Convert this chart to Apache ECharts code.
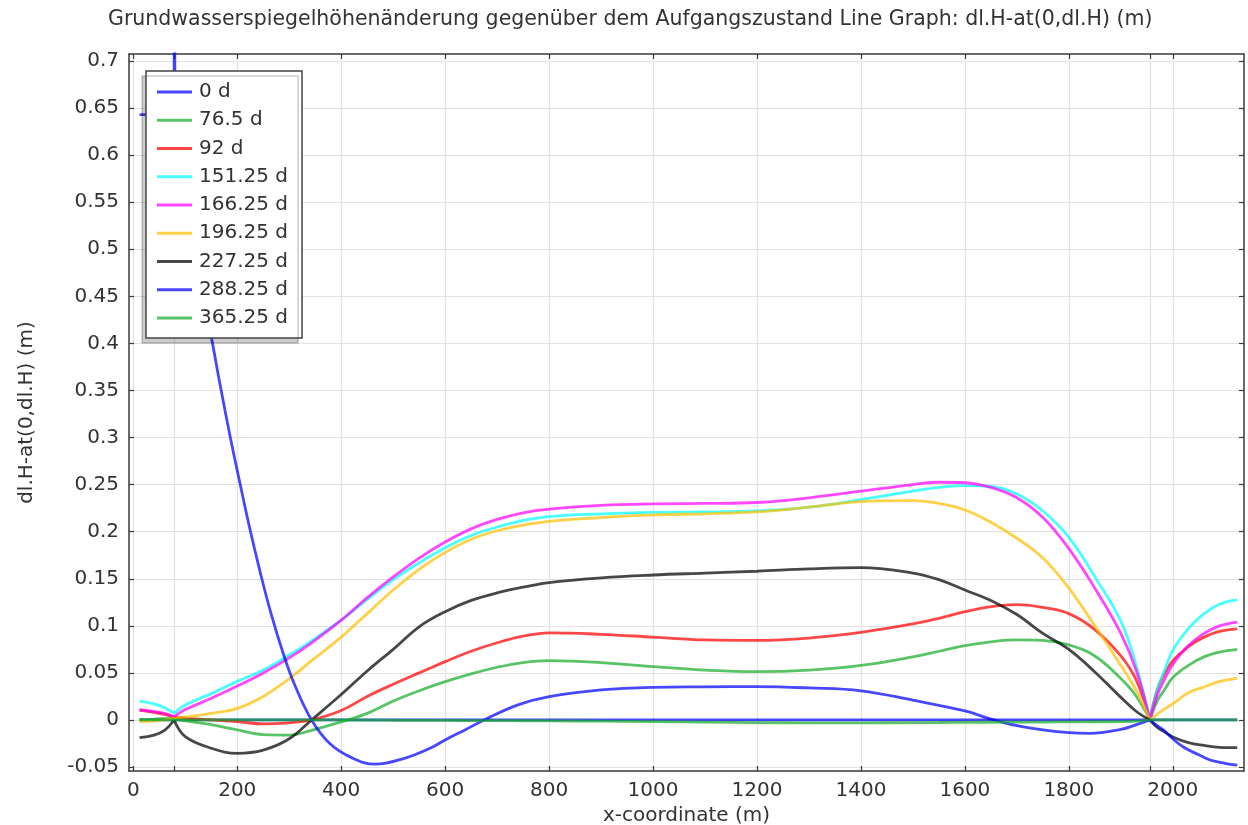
<!DOCTYPE html>
<html>
<head>
<meta charset="utf-8">
<title>Grundwasserspiegelhöhenänderung</title>
<script src="https://cdn.jsdelivr.net/npm/echarts@6/dist/echarts.min.js"></script>
<style>
  html, body { margin: 0; padding: 0; background: #ffffff; }
  #chart { width: 1248px; height: 825px; }
</style>
</head>
<body>
<div id="chart"></div>
<script>
// Tick positions and labels
const xTickValues = [0, 78.5, 200, 400, 600, 800, 1000, 1200, 1400, 1600, 1800, 1956, 2000];
const xLabelValues = [0, 200, 400, 600, 800, 1000, 1200, 1400, 1600, 1800, 2000];
const yTickValues = [-0.05, 0, 0.05, 0.1, 0.15, 0.2, 0.25, 0.3, 0.35, 0.4, 0.45, 0.5, 0.55, 0.6, 0.65, 0.7];

// Points where the profiles have a kink (line segments are split there)
const kinkX = [78.5, 1956];

// Shared x-coordinates (m)
const xs = [12, 40, 60, 78.5, 100, 150, 200, 250, 300, 343, 400, 450, 500, 550, 600, 650, 700, 750, 800,
  900, 1000, 1100, 1200, 1300, 1400, 1500, 1550, 1600, 1650, 1700, 1750, 1800, 1850, 1900, 1930, 1956,
  1970, 1985, 2000, 2030, 2060, 2090, 2124];

// dl.H (m) per time step
const h0 = xs.map(() => 0);
const h76_5 = [0.000, 0.001, 0.0015, 0.0014, -0.001, -0.005, -0.0106, -0.0155, -0.016, -0.011, -0.002, 0.007, 0.020, 0.031, 0.0407, 0.049, 0.056, 0.061, 0.063,
  0.061, 0.0566, 0.053, 0.0513, 0.053, 0.058, 0.067, 0.073, 0.079, 0.083, 0.085, 0.0845, 0.0797, 0.068, 0.044, 0.025, 0,
  0.020, 0.033, 0.045, 0.058, 0.067, 0.072, 0.075];
const h92 = [0.0106, 0.008, 0.006, 0.003, 0.002, 0.000, -0.0018, -0.0042, -0.003, 0.000, 0.010, 0.025, 0.038, 0.050, 0.062, 0.073, 0.082, 0.089, 0.0925,
  0.091, 0.088, 0.085, 0.0845, 0.087, 0.093, 0.102, 0.108, 0.115, 0.1205, 0.1225, 0.1195, 0.113, 0.096, 0.068, 0.042, 0,
  0.032, 0.050, 0.063, 0.078, 0.088, 0.094, 0.0967];
const h151_25 = [0.020, 0.017, 0.013, 0.007, 0.016, 0.028, 0.041, 0.053, 0.069, 0.084, 0.106, 0.128, 0.149, 0.167, 0.183, 0.196, 0.205, 0.212, 0.216,
  0.219, 0.2206, 0.221, 0.222, 0.226, 0.234, 0.243, 0.247, 0.249, 0.248, 0.240, 0.222, 0.194, 0.152, 0.105, 0.057, 0,
  0.032, 0.054, 0.074, 0.097, 0.113, 0.123, 0.1275];
const h166_25 = [0.0106, 0.009, 0.007, 0.0035, 0.011, 0.023, 0.036, 0.050, 0.066, 0.082, 0.106, 0.130, 0.152, 0.172, 0.189, 0.203, 0.213, 0.220, 0.224,
  0.228, 0.2295, 0.230, 0.231, 0.236, 0.243, 0.250, 0.2525, 0.252, 0.247, 0.236, 0.215, 0.182, 0.140, 0.092, 0.052, 0,
  0.026, 0.044, 0.059, 0.079, 0.092, 0.100, 0.104];
const h196_25 = [-0.0018, -0.001, 0.000, 0.0018, 0.003, 0.007, 0.0124, 0.025, 0.044, 0.063, 0.088, 0.113, 0.138, 0.160, 0.178, 0.192, 0.201, 0.207, 0.211,
  0.215, 0.2178, 0.219, 0.221, 0.226, 0.232, 0.233, 0.230, 0.223, 0.210, 0.193, 0.172, 0.140, 0.100, 0.058, 0.031, 0,
  0.006, 0.012, 0.017, 0.029, 0.035, 0.041, 0.0443];
const h227_25 = [-0.0188, -0.016, -0.011, 0.000, -0.0177, -0.030, -0.0354, -0.032, -0.020, 0.000, 0.027, 0.052, 0.075, 0.099, 0.115, 0.127, 0.135, 0.141, 0.146,
  0.151, 0.154, 0.156, 0.158, 0.1605, 0.1618, 0.156, 0.149, 0.138, 0.127, 0.112, 0.092, 0.075, 0.051, 0.024, 0.009, 0,
  -0.008, -0.013, -0.018, -0.024, -0.027, -0.029, -0.0294];
const h365_25 = [0, 0, 0, 0, 0, 0, 0, 0, 0, 0, 0, -0.0002, -0.0003, -0.0004, -0.0005, -0.0006, -0.0007, -0.0008, -0.0009,
  -0.0013, -0.0018, -0.0023, -0.0028, -0.003, -0.003, -0.0028, -0.0027, -0.0025, -0.0024, -0.0023, -0.0022, -0.002, -0.0019, -0.0018, -0.0012, 0,
  0, 0, 0, 0, 0, 0, 0];

// 288.25 d has its own sampling (jump at the left boundary)
const xs288 = [12, 40, 78.5, 78.5, 80, 95, 120, 151, 167, 186, 205, 223, 245, 265, 290, 310, 343, 378, 420, 465, 520, 571, 600, 640, 675, 740, 800,
  900, 1000, 1100, 1200, 1300, 1400, 1500, 1600, 1650, 1700, 1750, 1800, 1840, 1900, 1930, 1956,
  1970, 1985, 2000, 2021, 2050, 2072, 2100, 2124];
const h288_25 = [0.643, 0.643, 0.643, 1.0, 0.68, 0.57, 0.49, 0.404, 0.356, 0.302, 0.252, 0.206, 0.155, 0.113, 0.068, 0.038, 0.0, -0.025, -0.040, -0.047, -0.041, -0.030, -0.0212, -0.010, 0, 0.016, 0.0248,
  0.032, 0.0347, 0.0352, 0.0354, 0.034, 0.031, 0.021, 0.0096, 0.001, -0.006, -0.0105, -0.0135, -0.0142, -0.010, -0.005, 0,
  -0.006, -0.012, -0.020, -0.029, -0.037, -0.0425, -0.046, -0.048];

const seriesNames = ['0 d', '76.5 d', '92 d', '151.25 d', '166.25 d', '196.25 d', '227.25 d', '288.25 d', '365.25 d'];
const seriesColors = ['#0000ff', '#17ad2a', '#ff0000', '#00ffff', '#ff00ff', '#ffbf00', '#000000', '#0000ff', '#17ad2a'];
const seriesX = [xs, xs, xs, xs, xs, xs, xs, xs288, xs];
const seriesY = [h0, h76_5, h92, h151_25, h166_25, h196_25, h227_25, h288_25, h365_25];

// Build [x, y] pairs, breaking the polyline at kinks so smoothing keeps them sharp
function toPairs(xArr, yArr) {
  const out = [];
  for (let i = 0; i < xArr.length; i++) {
    out.push([xArr[i], yArr[i]]);
    if (i > 0 && i < xArr.length - 1 && kinkX.indexOf(xArr[i]) >= 0) {
      out.push([xArr[i], null]);
      out.push([xArr[i], yArr[i]]);
    }
  }
  return out;
}

const FONT = 'DejaVu Sans';
const TEXT = '#333333';
const LINE_OPACITY = 0.72;

const chart = echarts.init(document.getElementById('chart'), null, { renderer: 'canvas' });

const frameLine = { show: true, onZero: false, lineStyle: { color: '#3a3a3a', width: 1.5 } };
const tickStyle = { color: '#3a3a3a', width: 1.2 };

chart.setOption({
  animation: false,
  backgroundColor: '#ffffff',
  title: {
    text: 'Grundwasserspiegelhöhenänderung gegenüber dem Aufgangszustand Line Graph: dl.H-at(0,dl.H) (m)',
    left: 108,
    top: 9,
    padding: 0,
    textStyle: { fontFamily: FONT, fontSize: 20.5, fontWeight: 'normal', color: TEXT }
  },
  grid: { left: 129, right: 4, top: 54, bottom: 54, outerBoundsMode: 'none' },
  legend: {
    orient: 'vertical',
    left: 146,
    top: 71,
    padding: [9, 14, 8, 11],
    itemGap: 4.25,
    itemWidth: 35,
    itemHeight: 3,
    icon: 'rect',
    itemStyle: { opacity: LINE_OPACITY },
    backgroundColor: '#ffffff',
    borderColor: '#444444',
    borderWidth: 1.5,
    borderRadius: 0,
    shadowColor: 'rgba(0,0,0,0.2)',
    shadowBlur: 0,
    shadowOffsetX: -4,
    shadowOffsetY: 5,
    selectedMode: false,
    textStyle: { fontFamily: FONT, fontSize: 20, color: TEXT, lineHeight: 24, padding: [0, 0, 0, 2] },
    data: seriesNames
  },
  xAxis: [{
    type: 'value',
    position: 'bottom',
    min: -8.3,
    max: 2137,
    name: 'x-coordinate (m)',
    nameLocation: 'middle',
    nameGap: 32,
    nameTextStyle: { fontFamily: FONT, fontSize: 20, color: TEXT },
    axisLine: frameLine,
    axisTick: { show: true, inside: true, length: 5, customValues: xTickValues, lineStyle: tickStyle },
    axisLabel: { customValues: xLabelValues, fontFamily: FONT, fontSize: 20, color: TEXT, margin: 10, formatter: v => String(v) },
    splitLine: { show: true, lineStyle: { color: '#e2e2e2', width: 1.2 } }
  }, {
    type: 'value',
    position: 'top',
    min: -8.3,
    max: 2137,
    axisLine: frameLine,
    axisTick: { show: true, inside: true, length: 5, customValues: xTickValues, lineStyle: tickStyle },
    axisLabel: { show: false },
    splitLine: { show: false }
  }],
  yAxis: [{
    type: 'value',
    position: 'left',
    min: -0.0542,
    max: 0.7074,
    name: 'dl.H-at(0,dl.H) (m)',
    nameLocation: 'middle',
    nameGap: 92,
    nameTextStyle: { fontFamily: FONT, fontSize: 20, color: TEXT },
    axisLine: frameLine,
    axisTick: { show: true, inside: true, length: 5, customValues: yTickValues, lineStyle: tickStyle },
    axisLabel: {
      customValues: yTickValues,
      fontFamily: FONT, fontSize: 20, color: TEXT, margin: 10,
      formatter: v => String(+v.toFixed(2))
    },
    splitLine: { show: true, lineStyle: { color: '#e2e2e2', width: 1.2 } }
  }, {
    type: 'value',
    position: 'right',
    min: -0.0542,
    max: 0.7074,
    axisLine: frameLine,
    axisTick: { show: true, inside: true, length: 5, customValues: yTickValues, lineStyle: tickStyle },
    axisLabel: { show: false },
    splitLine: { show: false }
  }],
  series: seriesNames.map((name, i) => ({
    name: name,
    type: 'line',
    xAxisIndex: 0,
    yAxisIndex: 0,
    data: toPairs(seriesX[i], seriesY[i]),
    color: seriesColors[i],
    symbol: 'none',
    showSymbol: false,
    smooth: 0.4,
    connectNulls: false,
    clip: true,
    silent: true,
    lineStyle: { width: 2.8, opacity: LINE_OPACITY },
    emphasis: { disabled: true }
  }))
});
</script>
</body>
</html>
